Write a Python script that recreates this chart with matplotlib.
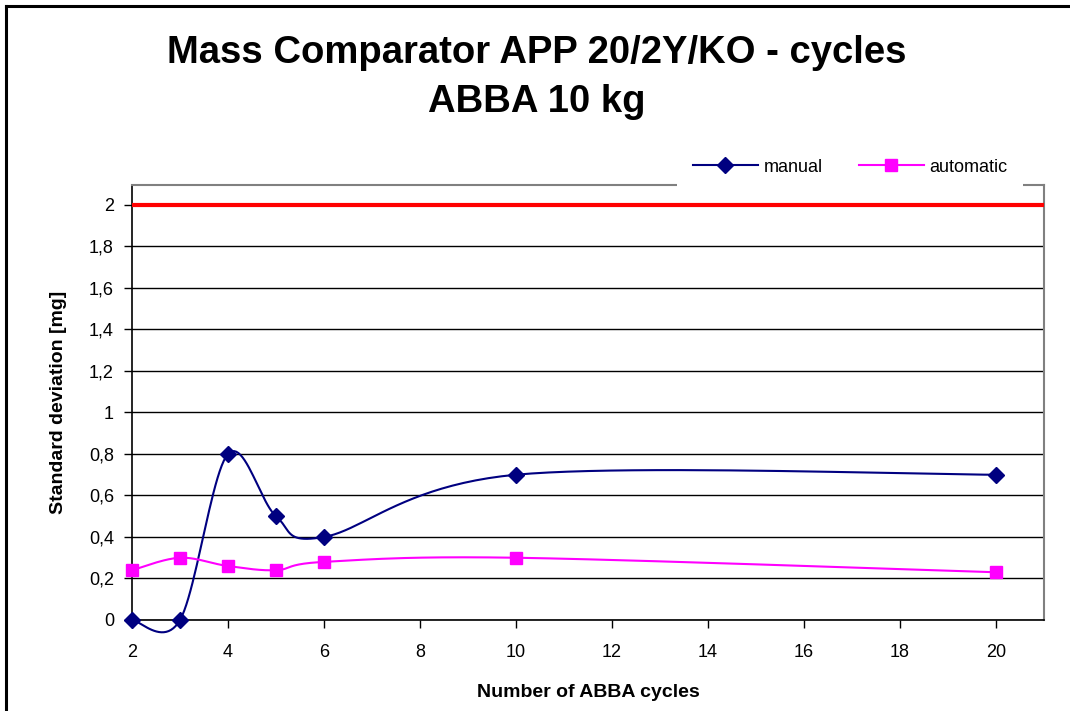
import numpy as np
import matplotlib
matplotlib.use("Agg")
import matplotlib.pyplot as plt
from matplotlib.lines import Line2D
from matplotlib.ticker import FuncFormatter

plt.rcParams['font.family'] = ['Liberation Sans', 'DejaVu Sans']

# ─── Data ─────────────────────────────────────────────────
cycles    = [2, 3, 4, 5, 6, 10, 20]
manual    = [0.0, 0.0, 0.80, 0.50, 0.40, 0.70, 0.70]
automatic = [0.24, 0.30, 0.26, 0.24, 0.28, 0.30, 0.23]
limit     = 2.0

XPX, YPX = 48.0, 207.5   # screen scale used for Excel-like smoothing


def smooth(xs, ys, n=24):
    # Bezier smoothing through the points (like Excel "smoothed line")
    pts = np.column_stack([np.asarray(xs, float) * XPX, np.asarray(ys, float) * YPX])
    out = []
    t = np.linspace(0, 1, n)[:, None]
    for i in range(len(pts) - 1):
        p0 = pts[i - 1] if i > 0 else pts[i]
        p1, p2 = pts[i], pts[i + 1]
        p3 = pts[i + 2] if i + 2 < len(pts) else pts[i + 1]
        c1 = p1 + (p2 - p0) / 6
        c2 = p2 - (p3 - p1) / 6
        seg = (1-t)**3*p1 + 3*(1-t)**2*t*c1 + 3*(1-t)*t**2*c2 + t**3*p2
        out.append(seg if i == 0 else seg[1:])
    arr = np.vstack(out)
    return arr[:, 0] / XPX, arr[:, 1] / YPX


fig = plt.figure(figsize=(10.70, 7.11), dpi=100)
ax = fig.add_axes([132/1070, 1-620/711, (1044-132)/1070, (620-185)/711])

# figure border
fig.add_artist(Line2D([6/1070, 6/1070], [0, 1-6/711], color='black', lw=2.2))
fig.add_artist(Line2D([6/1070, 1], [1-6/711, 1-6/711], color='black', lw=2.2))

fig.text(0.502, 1-53/711, 'Mass Comparator APP 20/2Y/KO - cycles',
         ha='center', va='center', fontsize=27.5, fontweight='bold')
fig.text(0.502, 1-102/711, 'ABBA 10 kg',
         ha='center', va='center', fontsize=27.5, fontweight='bold')

ax.axhline(limit, color='#ff0000', lw=3, zorder=3)

mx, my = smooth(cycles, manual)
ax.plot(mx, my, color='#000080', lw=1.5, clip_on=False, zorder=4)
ax.plot(cycles, manual, ls='none', marker='D', ms=8, color='#000080',
        clip_on=False, zorder=5)
axs, ays = smooth(cycles, automatic)
ax.plot(axs, ays, color='#ff00ff', lw=1.5, clip_on=False, zorder=4)
ax.plot(cycles, automatic, ls='none', marker='s', ms=9, color='#ff00ff',
        clip_on=False, zorder=5)

ax.set_xlim(2, 21)
ax.set_ylim(0, 2.096)
ax.set_xticks(range(2, 21, 2))
ax.set_yticks(np.arange(0, 2.01, 0.2))
ax.yaxis.set_major_formatter(FuncFormatter(
    lambda v, p: ('%g' % round(v, 1)).replace('.', ',')))
ax.grid(axis='y', color='black', lw=1.0)
ax.set_axisbelow(True)

for s in ['top', 'right']:
    ax.spines[s].set_color('#808080')
    ax.spines[s].set_linewidth(1.5)
ax.spines['left'].set_color('black')
ax.spines['bottom'].set_color('black')
ax.spines['left'].set_linewidth(1.2)
ax.spines['bottom'].set_linewidth(1.2)
ax.tick_params(axis='both', direction='out', length=6, width=1.0, labelsize=13)
ax.tick_params(axis='x', pad=11)
ax.tick_params(axis='y', pad=7)

ax.set_xlabel('Number of ABBA cycles', fontsize=14, fontweight='bold', labelpad=17)
ax.set_ylabel('Standard deviation [mg]', fontsize=14, fontweight='bold', labelpad=16)

handles = [Line2D([], [], color='#000080', lw=1.5, marker='D', ms=8),
           Line2D([], [], color='#ff00ff', lw=1.5, marker='s', ms=9)]
leg = ax.legend(handles, ['manual', 'automatic'], loc='center',
                bbox_to_anchor=(850/1070, 1-167/711), bbox_transform=fig.transFigure,
                ncol=2, frameon=True, fancybox=False, edgecolor='none',
                facecolor='white', framealpha=1, fontsize=13,
                handlelength=3.6, handletextpad=0.3, columnspacing=2.0,
                borderpad=0.9)

fig.savefig('out.png', dpi=100)
